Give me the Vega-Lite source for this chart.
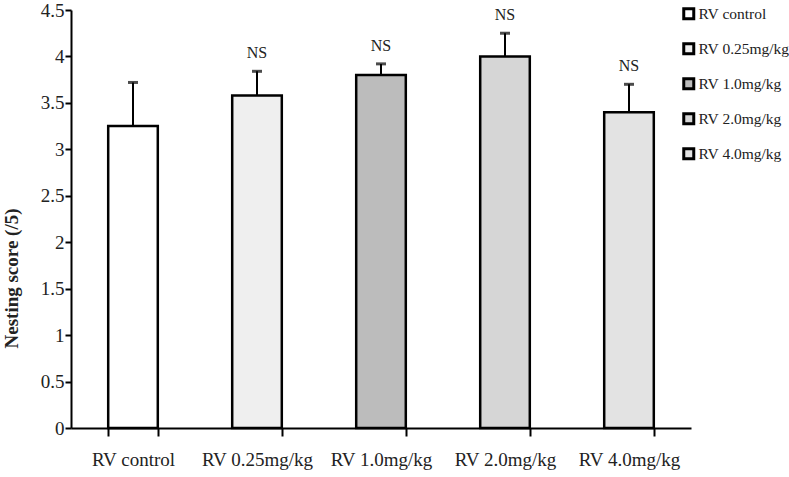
{
  "$schema": "https://vega.github.io/schema/vega-lite/v6.json",
  "width": 620,
  "height": 418,
  "autosize": "none",
  "padding": {"left": 71, "top": 10, "right": 98, "bottom": 49},
  "background": "white",
  "data": {
    "values": [
      {"group": "RV control", "mean": 3.25, "upper": 3.72, "label": ""},
      {"group": "RV 0.25mg/kg", "mean": 3.58, "upper": 3.84, "label": "NS"},
      {"group": "RV 1.0mg/kg", "mean": 3.8, "upper": 3.92, "label": "NS"},
      {"group": "RV 2.0mg/kg", "mean": 4.0, "upper": 4.25, "label": "NS"},
      {"group": "RV 4.0mg/kg", "mean": 3.4, "upper": 3.7, "label": "NS"}
    ]
  },
  "config": {
    "view": {"stroke": null},
    "font": "Liberation Serif",
    "axis": {"labelFont": "Liberation Serif", "titleFont": "Liberation Serif", "labelColor": "#222", "titleColor": "#222", "domainColor": "black", "tickColor": "black", "grid": false}
  },
  "encoding": {
    "x": {
      "field": "group", "type": "nominal", "sort": null,
      "scale": {"paddingInner": 0.6, "paddingOuter": 0.3},
      "axis": {"title": null, "labelAngle": 0, "labelFontSize": 19, "labelPadding": 14, "tickBand": "extent", "tickSize": 8, "tickWidth": 2, "domainWidth": 2}
    }
  },
  "layer": [
    {
      "mark": {"type": "bar", "stroke": "black", "strokeWidth": 2.5},
      "encoding": {
        "y": {
          "field": "mean", "type": "quantitative",
          "scale": {"domain": [0, 4.5]},
          "axis": {"title": "Nesting score (/5)", "titleFontSize": 19, "titleFontWeight": "bold", "titleX": -60, "titleY": 268, "titleBaseline": "middle", "titleAngle": -90, "labelFontSize": 19, "values": [0, 0.5, 1, 1.5, 2, 2.5, 3, 3.5, 4, 4.5], "labelExpr": "datum.value", "tickSize": 6, "tickWidth": 2, "domainWidth": 2, "labelPadding": 1}
        },
        "fill": {
          "field": "group", "type": "nominal", "sort": null,
          "scale": {"range": ["#ffffff", "#efefef", "#bcbcbc", "#d6d6d6", "#e3e3e3"]},
          "legend": {
            "title": null, "orient": "none", "legendX": 610, "legendY": -4,
            "symbolType": "square", "symbolSize": 100, "symbolStrokeColor": "black", "symbolStrokeWidth": 3,
            "labelFont": "Liberation Serif", "labelFontSize": 15.5, "labelColor": "#222", "rowPadding": 12, "labelOffset": 2
          }
        }
      }
    },
    {
      "mark": {"type": "rule", "color": "black", "strokeWidth": 2},
      "encoding": {
        "y": {"field": "mean", "type": "quantitative"},
        "y2": {"field": "upper"}
      }
    },
    {
      "mark": {"type": "tick", "color": "black", "thickness": 3, "size": 10},
      "encoding": {
        "y": {"field": "upper", "type": "quantitative"}
      }
    },
    {
      "mark": {"type": "text", "fontSize": 16, "dy": -18, "color": "#222", "font": "Liberation Serif"},
      "encoding": {
        "y": {"field": "upper", "type": "quantitative"},
        "text": {"field": "label"}
      }
    }
  ]
}
